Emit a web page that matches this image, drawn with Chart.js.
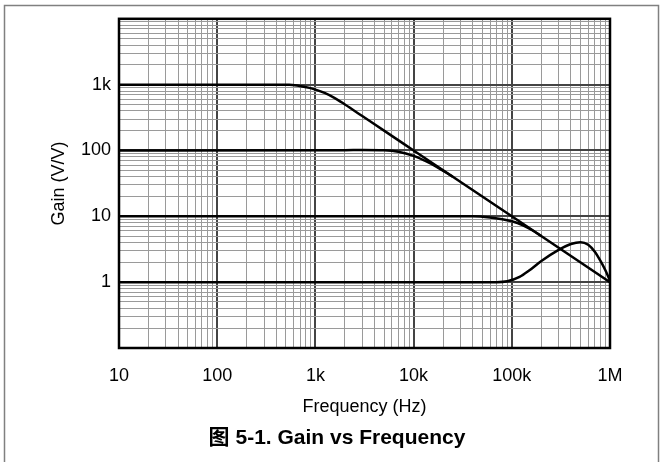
<!DOCTYPE html>
<html>
<head>
<meta charset="utf-8">
<script src="https://cdn.jsdelivr.net/npm/chart.js@4.4.1/dist/chart.umd.min.js"></script>
<style>
  html, body { margin: 0; padding: 0; background: #fff; }
</style>
</head>
<body>
<canvas id="myChart" width="663" height="462"></canvas>
<script>
// Frequency (Hz) / gain (V/V), one pair of arrays per closed-loop gain
const freqG1000 = [10, 540, 690, 870, 1000, 1240, 1560, 2000, 3000, 5000, 10000, 100000, 1000000];
const gainG1000 = [1000, 1000, 953, 892, 841, 748, 631, 500, 333, 200, 100, 10, 1];

const freqG100 = [10, 2000, 3000, 5000, 7000, 10000, 13000, 17000, 25000];
const gainG100 = [100, 101, 102, 101, 96, 83, 70, 57, 40];

const freqG10 = [10, 40000, 60000, 80000, 100000, 130000, 160000, 200000];
const gainG10 = [10, 10, 9.6, 9.0, 8.4, 7.3, 6.2, 5.0];

const freqG1 = [10, 70000, 90000, 120000, 150000, 200000, 300000, 400000, 500000, 600000, 700000, 800000, 900000, 1000000];
const gainG1 = [1, 1, 1.03, 1.2, 1.5, 2.1, 3.1, 3.8, 4.05, 3.7, 2.9, 2.1, 1.5, 1.05];

// Tick labels (decades only)
const xTickValues = [10, 100, 1000, 10000, 100000, 1000000];
const xTickLabels = ['10', '100', '1k', '10k', '100k', '1M'];
const yTickValues = [1, 10, 100, 1000];
const yTickLabels = ['1', '10', '100', '1k'];

const captionText = '图 5-1. Gain vs Frequency';

const fontFamily = '"Liberation Sans", Arial, "Noto Sans CJK SC", sans-serif';
Chart.defaults.color = '#000';
Chart.defaults.font.family = fontFamily;

// 1..9 x 10^n ticks so every minor grid line is drawn
function logTicks(min, max) {
    let ticks = [];
    for (let e = Math.round(Math.log10(min)); e < Math.round(Math.log10(max)); e++) {
        for (let m = 1; m < 10; m++) {
            ticks.push({ value: m * Math.pow(10, e) });
        }
    }
    ticks.push({ value: max });
    return ticks;
}

function isDecade(v) {
    let l = Math.log10(v);
    return Math.abs(l - Math.round(l)) < 1e-9;
}

function labelFor(v, values, labels) {
    for (let i = 0; i < values.length; i++) {
        if (Math.abs(v / values[i] - 1) < 1e-6) return labels[i];
    }
    return '';
}

function toPoints(xs, ys) {
    return xs.map((x, i) => ({ x: x, y: ys[i] }));
}

function curve(xs, ys) {
    return {
        data: toPoints(xs, ys),
        borderColor: '#000',
        borderWidth: 2.5,
        pointRadius: 0,
        fill: false,
        cubicInterpolationMode: 'monotone'
    };
}

const gridColor = ctx => isDecade(ctx.tick.value) ? '#444' : '#9a9a9a';
const gridWidth = ctx => isDecade(ctx.tick.value) ? 2 : 1;

// outer frame, plot border and the figure caption
const framePlugin = {
    id: 'frame',
    beforeDraw(chart) {
        const c = chart.ctx;
        c.save();
        c.fillStyle = '#fff';
        c.fillRect(0, 0, chart.width, chart.height);
        c.strokeStyle = '#808080';
        c.lineWidth = 1.5;
        c.strokeRect(4.5, 5.5, 654, 480);
        c.restore();
    },
    afterDraw(chart) {
        const a = chart.chartArea;
        const c = chart.ctx;
        c.save();
        c.strokeStyle = '#000';
        c.lineWidth = 2.5;
        c.strokeRect(a.left, a.top, a.right - a.left, a.bottom - a.top);
        c.fillStyle = '#000';
        c.font = 'bold 21px ' + fontFamily;
        c.textAlign = 'center';
        c.textBaseline = 'middle';
        c.fillText(captionText, 337, 438);
        c.restore();
    }
};

const myChart = new Chart(document.getElementById('myChart'), {
    type: 'line',
    data: {
        datasets: [
            curve(freqG1000, gainG1000),
            curve(freqG100, gainG100),
            curve(freqG10, gainG10),
            curve(freqG1, gainG1)
        ]
    },
    options: {
        responsive: false,
        animation: false,
        layout: { padding: { top: 17, right: 53, left: 0, bottom: 36.2 } },
        plugins: {
            legend: { display: false },
            tooltip: { enabled: false }
        },
        scales: {
            x: {
                type: 'logarithmic',
                min: 10,
                max: 1000000,
                afterBuildTicks: scale => { scale.ticks = logTicks(10, 1000000); },
                afterFit: scale => { scale.height = 77.8; },
                ticks: {
                    autoSkip: false,
                    maxRotation: 0,
                    padding: 17,
                    font: { size: 18 },
                    callback: v => labelFor(v, xTickValues, xTickLabels)
                },
                grid: { color: gridColor, lineWidth: gridWidth, drawTicks: false },
                border: { display: false },
                title: {
                    display: true,
                    text: 'Frequency (Hz)',
                    font: { size: 18 },
                    padding: { top: 0, bottom: 8 }
                }
            },
            y: {
                type: 'logarithmic',
                min: 0.1,
                max: 10000,
                afterBuildTicks: scale => { scale.ticks = logTicks(0.1, 10000); },
                afterFit: scale => { scale.width = 119; },
                ticks: {
                    autoSkip: false,
                    padding: 8,
                    font: { size: 18 },
                    callback: v => labelFor(v, yTickValues, yTickLabels)
                },
                grid: { color: gridColor, lineWidth: gridWidth, drawTicks: false },
                border: { display: false },
                title: {
                    display: true,
                    text: 'Gain (V/V)',
                    font: { size: 18 },
                    padding: { top: 48, bottom: 0 }
                }
            }
        }
    },
    plugins: [framePlugin]
});
</script>
</body>
</html>
